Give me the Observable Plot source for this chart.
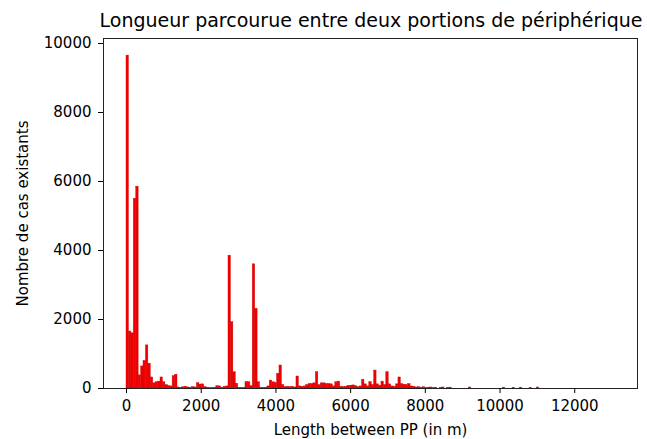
<!DOCTYPE html>
<html>
<head>
<meta charset="utf-8">
<script src="https://cdn.jsdelivr.net/npm/d3@7"></script>
<script src="https://cdn.jsdelivr.net/npm/@observablehq/plot@0.6"></script>
<style>
  html, body { margin: 0; padding: 0; background: #fff; }
  #wrap { position: relative; width: 647px; height: 439px; overflow: hidden; font-family: "DejaVu Sans", sans-serif; }
  #title { position: absolute; left: 0; top: 8px; width: 742px; text-align: center; font-size: 19px; line-height: 24px; color: #000; white-space: nowrap; }
  #chart { position: absolute; left: 0; top: 34px; }
</style>
</head>
<body>
<div id="wrap">
  <div id="title">Longueur parcourue entre deux portions de périphérique</div>
  <div id="chart"></div>
</div>
<script>
// Histogram: bin width (m) and counts per bin, starting at 0 m
const binWidth = 65;
const counts = [
  9650, 1650, 1600, 5500, 5850, 380, 640, 800, 1250, 720,
  320, 150, 180, 200, 320, 180, 100, 70, 60, 360,
  400, 30, 20, 40, 50, 30, 20, 40, 30, 155,
  115, 120, 40, 20, 10, 15, 20, 70, 60, 20,
  50, 60, 3850, 1920, 470, 140, 20, 15, 20, 185,
  180, 70, 3600, 2310, 180, 20, 15, 20, 60, 230,
  180, 160, 425, 667, 100, 40, 50, 40, 50, 30,
  348, 60, 50, 60, 100, 130, 130, 150, 473, 100,
  150, 150, 130, 130, 120, 60, 180, 200, 50, 40,
  50, 80, 80, 90, 70, 40, 60, 250, 120, 60,
  185, 100, 520, 120, 80, 200, 100, 473, 120, 60,
  50, 120, 320, 130, 110, 100, 130, 60, 50, 30,
  40, 20, 35, 15, 25, 30, 10, 25, 0, 20,
  30, 0, 20, 25, 0, 0, 0, 0, 0, 0,
  0, 30, 0, 0, 0, 0, 0, 0, 0, 0,
  0, 0, 0, 0, 0, 25, 0, 0, 0, 20,
  0, 0, 25, 0, 0, 0, 20, 0, 0, 30
];
const xTicks = [0, 2000, 4000, 6000, 8000, 10000, 12000];
const yTicks = [0, 2000, 4000, 6000, 8000, 10000];
const xTitle = "Length between PP (in m)";
const yTitle = "Nombre de cas existants";

const bins = counts.map((c, i) => ({x1: i * binWidth, x2: (i + 1) * binWidth, count: c})).filter(d => d.count > 0);

const chart = Plot.plot({
  width: 647,
  height: 405,
  marginTop: 4,
  marginLeft: 103,
  marginRight: 10,
  marginBottom: 51,
  style: {fontFamily: "DejaVu Sans, sans-serif", fontSize: "15px", color: "#000", background: "#fff"},
  x: {domain: [-616, 13680]},
  y: {domain: [0, 10145]},
  marks: [
    Plot.rectY(bins, {x1: "x1", x2: "x2", y: "count", fill: "#f00000", stroke: "#d00000", strokeWidth: 0.4, inset: 0}),
    Plot.frame({stroke: "#222", strokeWidth: 1}),
    Plot.axisX({ticks: xTicks, tickFormat: d3.format("d"), tickSize: 5, tickPadding: 7, fontSize: 15,
      label: xTitle, labelAnchor: "center", labelOffset: 46, labelArrow: "none"}),
    Plot.axisY({ticks: yTicks, tickFormat: d3.format("d"), tickSize: 5, tickPadding: 7, fontSize: 15,
      label: yTitle, labelAnchor: "center", labelOffset: 86, labelArrow: "none"})
  ]
});
document.getElementById("chart").appendChild(chart);
</script>
</body>
</html>
